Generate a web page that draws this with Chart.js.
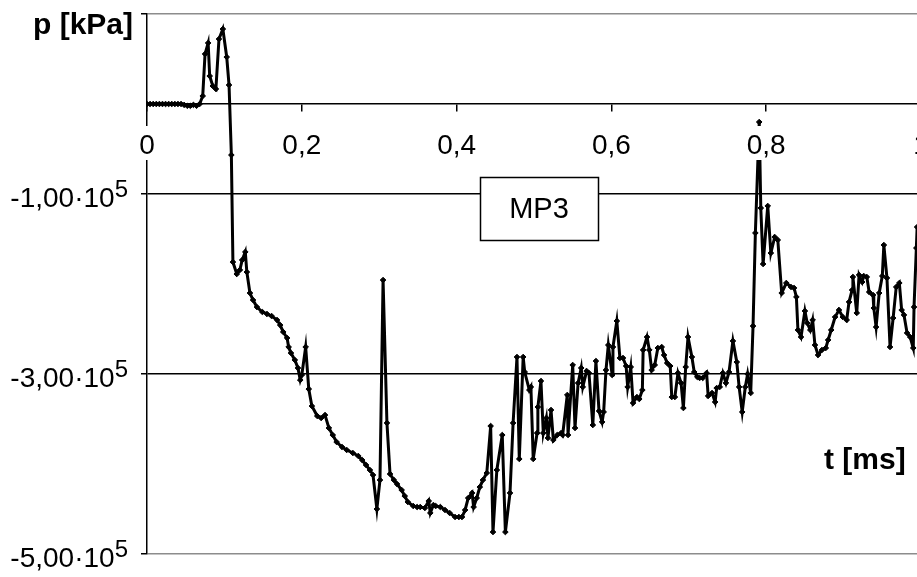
<!DOCTYPE html>
<html>
<head>
<meta charset="utf-8">
<script src="https://cdn.jsdelivr.net/npm/chart.js@4"></script>
<style>
  html, body { margin: 0; padding: 0; background: #fff; overflow: hidden; }
  #wrap { width: 917px; height: 577px; overflow: hidden; }
  canvas { display: block; }
</style>
</head>
<body>
<div id="wrap"><canvas id="chart" width="930" height="577"></canvas></div>
<script>
// t [ms]
const times = [
    0, 0.004, 0.008, 0.012, 0.016, 0.020, 0.024, 0.028, 0.032, 0.036,
    0.040, 0.044, 0.048, 0.052, 0.056, 0.060, 0.064, 0.068, 0.072, 0.075,
    0.079, 0.081, 0.085, 0.089, 0.093, 0.098, 0.103, 0.106, 0.109, 0.111,
    0.116, 0.120, 0.123, 0.127, 0.129, 0.133, 0.137, 0.142, 0.149, 0.155,
    0.161, 0.168, 0.172, 0.176, 0.181, 0.183, 0.186, 0.191, 0.195, 0.198,
    0.200, 0.205, 0.209, 0.213, 0.220, 0.225, 0.230, 0.235, 0.240, 0.245,
    0.252, 0.258, 0.266, 0.273, 0.278, 0.283, 0.288, 0.292, 0.297, 0.301,
    0.305, 0.310, 0.314, 0.319, 0.323, 0.329, 0.333, 0.337, 0.344, 0.349,
    0.353, 0.359, 0.364, 0.366, 0.370, 0.373, 0.379, 0.385, 0.391, 0.398,
    0.403, 0.407, 0.411, 0.415, 0.420, 0.422, 0.426, 0.430, 0.434, 0.439,
    0.444, 0.447, 0.452, 0.459, 0.463, 0.469, 0.473, 0.478, 0.481, 0.486,
    0.488, 0.494, 0.496, 0.499, 0.504, 0.505, 0.509, 0.512, 0.516, 0.518,
    0.522, 0.525, 0.530, 0.535, 0.537, 0.543, 0.544, 0.550, 0.553, 0.557,
    0.561, 0.563, 0.568, 0.571, 0.576, 0.580, 0.584, 0.588, 0.590, 0.593,
    0.596, 0.601, 0.602, 0.607, 0.611, 0.615, 0.619, 0.621, 0.625, 0.628,
    0.633, 0.636, 0.640, 0.641, 0.646, 0.649, 0.652, 0.656, 0.660, 0.665,
    0.668, 0.672, 0.676, 0.678, 0.682, 0.686, 0.690, 0.693, 0.696, 0.699,
    0.704, 0.707, 0.711, 0.714, 0.718, 0.723, 0.725, 0.730, 0.734, 0.736,
    0.740, 0.744, 0.748, 0.752, 0.757, 0.762, 0.765, 0.769, 0.773, 0.776,
    0.780, 0.783, 0.786, 0.791, 0.793, 0.796, 0.802, 0.806, 0.811, 0.815,
    0.820, 0.826, 0.832, 0.836, 0.839, 0.841, 0.845, 0.850, 0.853, 0.857,
    0.860, 0.863, 0.867, 0.872, 0.877, 0.880, 0.884, 0.889, 0.894, 0.899,
    0.904, 0.907, 0.911, 0.912, 0.917, 0.920, 0.924, 0.926, 0.930, 0.933,
    0.938, 0.939, 0.942, 0.946, 0.950, 0.952, 0.956, 0.960, 0.964, 0.968,
    0.972, 0.975, 0.978, 0.982, 0.986, 0.990, 0.991, 0.994, 0.995
];

// p [kPa]
const pressures = [
    0, 0, 0, 0, 0, 0, 0, 0, 0, 0,
    0, 0, -1000, -2000, -2000, -1000, -2000, 0, 8900, 55600,
    67800, 31100, 20000, 16700, 72200, 83300, 52200, 21100, -56700, -175600,
    -188900, -184400, -173300, -164400, -186700, -210000, -217800, -225600, -231100, -233300,
    -235600, -240000, -245600, -253300, -260000, -270000, -276700, -284400, -293300, -306700,
    -301100, -270000, -316700, -335600, -346700, -348900, -345600, -360000, -367800, -375600,
    -381100, -384400, -387800, -391100, -395600, -401100, -406700, -412200, -450000, -417800,
    -195600, -354400, -411100, -417800, -422200, -428900, -435600, -442200, -446700, -447800,
    -447800, -448900, -441100, -454400, -445600, -446700, -447800, -451100, -454400, -458900,
    -458900, -458900, -451100, -437800, -432200, -447800, -437800, -425600, -417800, -410000,
    -357800, -475600, -406700, -367800, -475600, -432200, -354400, -281100, -394400, -281100,
    -297800, -317800, -314400, -394400, -365600, -336700, -307800, -365600, -348900, -371100,
    -340000, -373300, -367800, -365600, -367800, -323300, -367800, -290000, -360000, -310000,
    -293300, -314400, -296700, -298900, -356700, -285600, -341100, -353300, -342200, -295600,
    -267800, -301100, -270000, -241100, -282200, -282200, -291100, -314400, -292200, -332200,
    -325600, -327800, -317800, -273300, -258900, -273300, -295600, -290000, -271100, -270000,
    -278900, -287800, -291100, -325600, -325600, -298900, -310000, -337800, -292200, -258900,
    -281100, -297800, -303300, -304400, -304400, -298900, -324400, -321100, -331100, -315600,
    -314400, -298900, -310000, -297800, -263300, -286700, -314400, -342200, -314400, -300000,
    -321100, -246700, -143300, -20000, -115600, -177800, -113300, -165600, -147800, -151100,
    -210000, -198900, -203300, -204400, -214400, -251100, -258900, -230000, -243300, -251100,
    -240000, -267800, -278900, -273300, -271100, -262200, -251100, -236700, -228900, -236700,
    -240000, -220000, -206700, -192200, -232200, -190000, -197800, -191100, -192200, -208900,
    -212200, -226700, -247800, -210000, -191100, -156700, -193300, -270000, -237800, -203300,
    -198900, -228900, -234400, -254400, -258900, -271100, -225600, -160000, -136700
];

const tTicks = [0, 0.2, 0.4, 0.6, 0.8, 1];
const pTicks = [-500000, -300000, -100000, 100000];
const pLabelTicks = [-500000, -300000, -100000];
const seriesName = 'MP3';

const FONT = '"Liberation Sans", Arial, sans-serif';

const fmtT = v => v === 0 ? '0' : String(+v.toFixed(1)).replace('.', ',');
const fmtP = v => (v / 1e5).toFixed(2).replace('.', ',') + '\u00b710';

// tick labels (x labels sit on white, over the curve), axis titles, series box
const labelsPlugin = {
    id: 'labels',
    afterDraw(chart) {
        const ctx = chart.ctx;
        const xScale = chart.scales.x;
        const yScale = chart.scales.y;
        const y0 = yScale.getPixelForValue(0);
        ctx.save();
        ctx.fillStyle = '#000';

        ctx.font = '28px ' + FONT;
        ctx.textAlign = 'center';
        ctx.textBaseline = 'middle';
        tTicks.forEach(v => {
            const px = xScale.getPixelForValue(v);
            const txt = fmtT(v);
            const w = ctx.measureText(txt).width;
            ctx.fillStyle = '#fff';
            ctx.fillRect(px - w / 2 - 2, y0 + 22, w + 4, 34);
            ctx.fillStyle = '#000';
            ctx.fillText(txt, px, y0 + 42);
        });

        ctx.textBaseline = 'alphabetic';
        pLabelTicks.forEach(v => {
            const py = yScale.getPixelForValue(v);
            ctx.font = '24px ' + FONT;
            const supW = ctx.measureText('5').width;
            ctx.textAlign = 'left';
            ctx.fillText('5', 128 - supW, py + 3);
            ctx.font = '28px ' + FONT;
            ctx.textAlign = 'right';
            ctx.fillText(fmtP(v), 128 - supW, py + 13);
        });

        ctx.font = 'bold 30px ' + FONT;
        ctx.textAlign = 'right';
        ctx.fillText('p [kPa]', 133, 34);
        ctx.textAlign = 'left';
        ctx.fillText('t [ms]', 824, 469);

        ctx.fillStyle = '#fff';
        ctx.fillRect(480, 177, 118, 63);
        ctx.strokeStyle = '#000';
        ctx.lineWidth = 1.5;
        ctx.strokeRect(480.5, 177.5, 118, 63);
        ctx.fillStyle = '#000';
        ctx.font = '29px ' + FONT;
        ctx.textAlign = 'center';
        ctx.textBaseline = 'middle';
        ctx.fillText(seriesName, 539, 210);
        ctx.restore();
    }
};

const points = times.map((t, i) => ({ x: t, y: pressures[i] }));

new Chart(document.getElementById('chart'), {
    type: 'line',
    data: {
        datasets: [{
            label: seriesName,
            data: points,
            borderColor: '#000',
            backgroundColor: '#000',
            borderWidth: 3,
            pointStyle: 'rectRot',
            pointRadius: 2.8,
            pointBorderWidth: 1,
            pointBackgroundColor: '#000',
            pointBorderColor: '#000',
            tension: 0,
            fill: false
        }]
    },
    options: {
        responsive: false,
        animation: false,
        devicePixelRatio: 1,
        layout: { padding: { top: 14, bottom: 23, left: 0, right: 9 } },
        plugins: {
            legend: { display: false },
            tooltip: { enabled: false }
        },
        scales: {
            x: {
                type: 'linear',
                min: 0,
                max: 1,
                position: { y: 0 },
                z: 1,
                afterBuildTicks: s => { s.ticks = tTicks.map(v => ({ value: v })); },
                afterFit: s => { s.paddingLeft = 0; s.paddingRight = 0; },
                grid: { drawOnChartArea: false, drawTicks: true, tickLength: 7, color: '#000', lineWidth: 1.5 },
                border: { display: true, color: '#000', width: 1.5 },
                ticks: { display: false }
            },
            y: {
                type: 'linear',
                min: -500000,
                max: 100000,
                position: 'left',
                afterBuildTicks: s => { s.ticks = pTicks.map(v => ({ value: v })); },
                afterFit: s => { s.width = 147; s.paddingTop = 0; s.paddingBottom = 0; },
                grid: {
                    color: c => (c.tick && (c.tick.value === -500000 || c.tick.value === 100000)) ? '#8c8c8c' : '#000',
                    lineWidth: 1.5,
                    tickColor: '#000',
                    tickLength: 6,
                    drawTicks: true
                },
                border: { display: true, color: '#000', width: 1.5 },
                ticks: { display: false }
            }
        }
    },
    plugins: [labelsPlugin]
});
</script>
</body>
</html>
